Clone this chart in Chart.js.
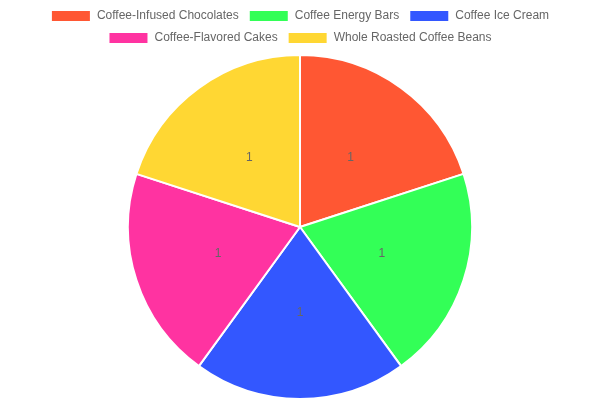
<!DOCTYPE html>
<html>
<head>
<meta charset="utf-8">
<script src="https://cdn.jsdelivr.net/npm/chart.js@4"></script>
<style>
html,body{margin:0;padding:0;background:#fff;}
#wrap{width:600px;height:400px;}
</style>
</head>
<body>
<div id="wrap"><canvas id="c"></canvas></div>
<script>
const categories = ["Coffee-Infused Chocolates", "Coffee Energy Bars", "Coffee Ice Cream", "Coffee-Flavored Cakes", "Whole Roasted Coffee Beans"];
const values = [1, 1, 1, 1, 1];
const colors = ["#FF5733", "#33FF57", "#3357FF", "#FF33A1", "#FFD733"];

const labelPlugin = {
  id: 'sliceLabels',
  afterDatasetsDraw(chart) {
    const ctx = chart.ctx;
    const meta = chart.getDatasetMeta(0);
    ctx.save();
    ctx.font = '12px "Helvetica Neue", Helvetica, Arial, sans-serif';
    ctx.fillStyle = '#666';
    ctx.textAlign = 'center';
    ctx.textBaseline = 'middle';
    meta.data.forEach((arc, i) => {
      const p = arc.tooltipPosition();
      ctx.fillText(String(values[i]), p.x, p.y);
    });
    ctx.restore();
  }
};

new Chart(document.getElementById('c'), {
  type: 'pie',
  data: {
    labels: categories,
    datasets: [{
      data: values,
      backgroundColor: colors,
      borderColor: '#fff',
      borderWidth: 2
    }]
  },
  options: {
    responsive: true,
    maintainAspectRatio: false,
    animation: false,
    plugins: {
      legend: { position: 'top' },
      tooltip: { enabled: false }
    }
  },
  plugins: [labelPlugin]
});
</script>
</body>
</html>
